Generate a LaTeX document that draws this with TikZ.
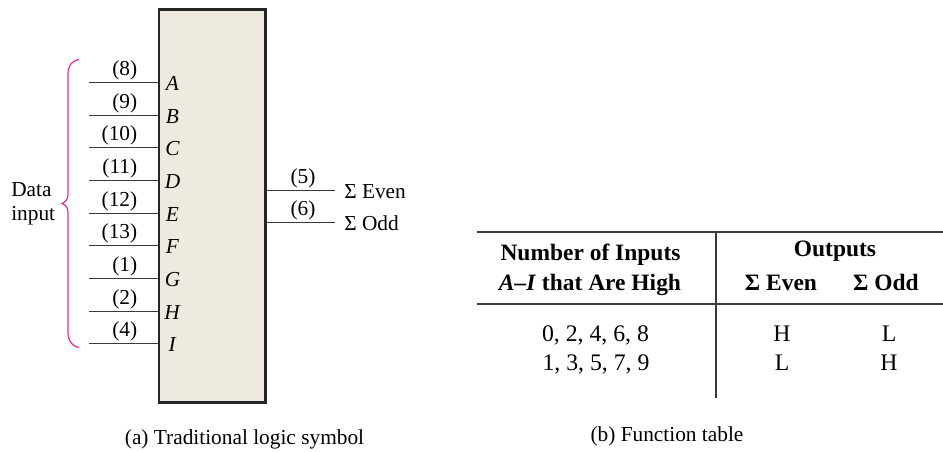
\documentclass[tikz,border=0pt]{standalone}
\usepackage{fontspec}
\setmainfont{Liberation Serif}
\definecolor{boxfill}{HTML}{EEEAE0}
\definecolor{bracecol}{HTML}{EC2A96}
\definecolor{linecol}{HTML}{3A3A3A}
\tikzset{
  lbl/.style={inner sep=0pt,font=\fontsize{16}{18}\selectfont,text=black},
  tbl/.style={lbl,font=\fontsize{17.8}{20}\selectfont},
  hdr/.style={lbl,font=\fontsize{17.6}{20}\selectfont\bfseries},
  wire/.style={draw=linecol,line width=0.95pt},
  rule/.style={draw=linecol,line width=1.2pt},
}
\begin{document}
\begin{tikzpicture}[x=0.75pt,y=-0.75pt]
\useasboundingbox (0,0) rectangle (943,452);
\node[draw=black!85,line width=2.2pt,fill=boxfill,minimum width=79.9pt,minimum height=294.6pt,inner sep=0pt,outer sep=0pt] (chip) at (212.25,205.7) {};
\foreach \n/\y/\t/\p in {A/82.5/A/(8),B/115.5/B/(9),C/147.5/C/(10),D/180.5/D/(11),E/213.5/E/(12),F/245.5/F/(13),G/278.5/G/(1),H/311.5/H/(2),I/343.5/I/(4)}{
  \coordinate (s\n) at (89,\y);
  \coordinate (e\n) at (158,\y);
  \draw[wire] (s\n) -- (e\n);
  \node[lbl,anchor=base east] (p\n) at (137.5,\y-6.5) {\p};
  \node[lbl,anchor=base] (l\n) at (172.5,\y+8) {\textit{\t}};
}
\coordinate (oa) at (266,190.5);
\coordinate (oae) at (335,190.5);
\coordinate (ob) at (266,222.5);
\coordinate (obe) at (335,222.5);
\draw[wire] (oa) -- (oae);
\draw[wire] (ob) -- (obe);
\node[lbl,anchor=base] (p5) at (303,184) {(5)};
\node[lbl,anchor=base] (p6) at (303,216) {(6)};
\node[lbl,anchor=base west] (even) at (344,198.5) {Σ Even};
\node[lbl,anchor=base west] (odd) at (344,230.5) {Σ Odd};
\node[lbl,anchor=base west] (d1) at (11,197) {Data};
\node[lbl,anchor=base west] (d2) at (11,221) {input};
\coordinate (bt) at (79,59.5);
\coordinate (bb) at (79,347.5);
\coordinate (btip) at (62,203.5);
\draw[bracecol,line width=0.9pt] (bt) .. controls (71,61) and (68,66) .. (68,74) -- (68,194)
  .. controls (68,199) and (66,202) .. (btip) .. controls (66,205) and (68,208) .. (68,213) -- (68,332)
  .. controls (68,340) and (71,346) .. (bb);
\node[lbl,anchor=base] (capa) at (244.5,444) {(a) Traditional logic symbol};
\node[lbl,anchor=base] (capb) at (667,441) {(b) Function table};
% table
\coordinate (t1) at (477,232);\coordinate (t2) at (943,232);
\coordinate (m1) at (477,304);\coordinate (m2) at (943,304);
\coordinate (v1) at (716,232);\coordinate (v2) at (716,398.5);
\draw[rule] (t1) -- (t2);
\draw[rule,line width=1.6pt] (m1) -- (m2);
\draw[rule] (v1) -- (v2);
\node[hdr,anchor=base] (h1) at (590.5,261) {Number of Inputs};
\node[hdr,anchor=base] (h2) at (590,290.5) {\textit{A–I} that Are High};
\node[hdr,anchor=base] (h3) at (835,257) {Outputs};
\node[hdr,anchor=base] (h4) at (781,290.5) {Σ Even};
\node[hdr,anchor=base] (h5) at (886,290.5) {Σ Odd};
\node[tbl,anchor=base] (r1) at (595.5,342) {0, 2, 4, 6, 8};
\node[tbl,anchor=base] (r2) at (596,371) {1, 3, 5, 7, 9};
\node[tbl,anchor=base] (r1a) at (782,342) {H};
\node[tbl,anchor=base] (r1b) at (889,342) {L};
\node[tbl,anchor=base] (r2a) at (782,371) {L};
\node[tbl,anchor=base] (r2b) at (889,371) {H};
\end{tikzpicture}
\end{document}
